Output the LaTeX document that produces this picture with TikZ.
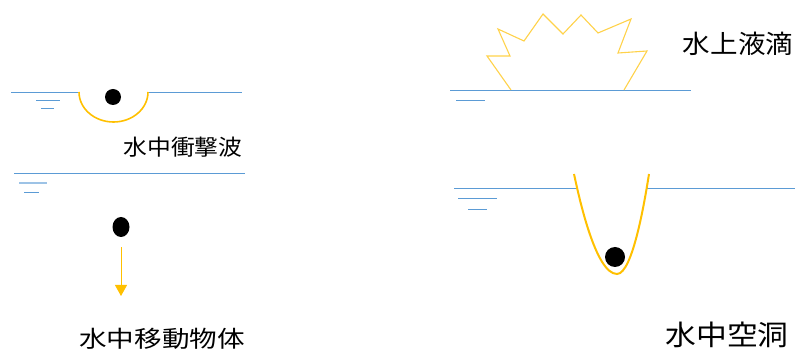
\documentclass[tikz,border=0pt]{standalone}
\usepackage{fontspec}
\usepackage{graphicx}
\newfontfamily\jpfont{Noto Sans CJK JP}
\usetikzlibrary{arrows.meta, shapes.geometric}
\definecolor{waterblue}{HTML}{5B9BD5}
\definecolor{paleblue}{HTML}{9DC3E6}
\definecolor{amber}{HTML}{FFC000}
\definecolor{paleamber}{HTML}{FFD24A}

\tikzset{
  water/.style={waterblue, line width=0.9pt},
  wave/.style={amber, line width=1.6pt},
  body/.style={circle, fill=black, inner sep=0pt, minimum size=16pt},
  caption/.style={inner sep=0pt, text=black},
}
\newcommand{\jptext}[3]{{\jpfont\fontsize{#1}{#1}\selectfont\scalebox{#2}[1]{#3}}}

\begin{document}
\begin{tikzpicture}[x=1pt, y=-1pt, >=Latex]
  \useasboundingbox (0,0) rectangle (795,352);
  % Shock wave under the surface
  \draw[water] (11,92) -- (79,92);
  \draw[water] (148,92) -- (242,92);
  \draw[water] (36,100) -- (60,100);
  \draw[water] (41,108) -- (54,108);
  \draw[wave] (79,92) arc[start angle=180, end angle=0, x radius=34.5, y radius=30];
  \node[body] (ball) at (113,97) {};
  \node[caption] (shock) at (183,147) {\jptext{22}{1.08}{水中衝撃波}};
  % Body moving down
  \draw[water] (14,173) -- (245,173);
  \draw[water, paleblue, line width=1.4pt] (19,183) -- (47,183);
  \draw[water] (24,192) -- (39,192);
  \node[body, ellipse, minimum width=17pt, minimum height=20pt] (diver) at (121,227) {};
  \coordinate (sink) at (121,296);
  \draw[amber, line width=1pt, -{Triangle[width=12pt,length=11pt]}, shorten <=10pt]
    (diver) -- (sink);
  \node[caption] (moving) at (162,339) {\jptext{23}{1.2}{水中移動物体}};
  % Splash above the surface
  \draw[water] (450,90) -- (691,90);
  \draw[water] (456,100) -- (485,100);
  \draw[paleamber, line width=1.1pt, line join=miter]
    (511,90) -- (487,56) -- (510,56) -- (498,29) -- (524,41) -- (543,14)
    -- (563,34) -- (581,15) -- (598,33) -- (631,19) -- (618,53)
    -- (647,51) -- (624,90);
  \node[caption] (splash) at (738,44) {\jptext{25.5}{1.08}{水上液滴}};
  % Cavity behind the body
  \draw[water] (454,188) -- (577,188);
  \draw[water] (647,188) -- (795,188);
  \draw[water] (458,198) -- (497,198);
  \draw[water] (468,209) -- (487,209);
  \draw[wave, line width=2pt] (574,174) parabola bend (617,274) (649,174);
  \node[body, minimum size=20pt] (bubble) at (615,257) {};
  \node[caption] (cavity) at (727,335) {\jptext{28}{1.1}{水中空洞}};
\end{tikzpicture}
\end{document}
